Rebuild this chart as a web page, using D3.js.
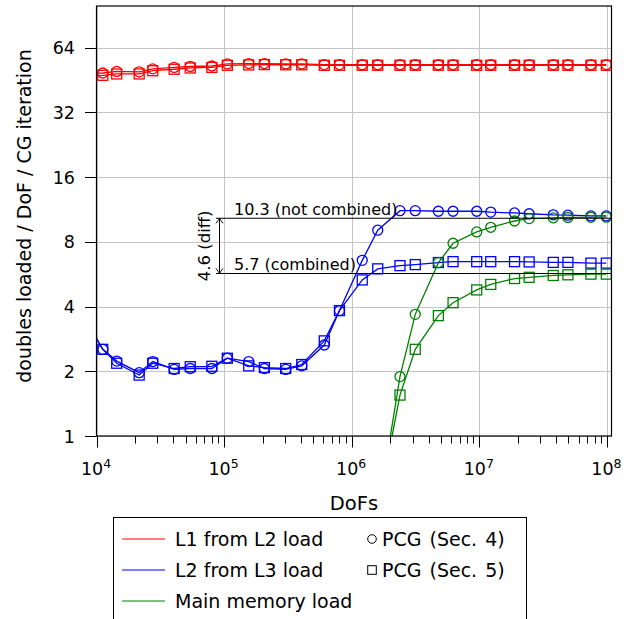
<!DOCTYPE html>
<html><head><meta charset="utf-8">
<script src="https://cdn.jsdelivr.net/npm/d3@7"></script>
<style>
body{margin:0;background:#fff}
svg{display:block}
text{font-family:'DejaVu Sans',sans-serif;fill:#000}
</style>
</head><body>
<svg id="c" width="642" height="619"></svg>
<script>
// ---------------- data ----------------
const dofs = [7.5e3, 1.12e4, 1.44e4, 2.16e4, 2.76e4, 4.06e4, 5.43e4, 8.02e4, 1.06e5, 1.56e5,
  2.07e5, 3.04e5, 4.06e5, 6.1e5, 8.02e5, 1.21e6, 1.6e6, 2.39e6, 3.15e6, 4.78e6,
  6.23e6, 9.55e6, 1.23e7, 1.89e7, 2.46e7, 3.8e7, 4.95e7, 7.5e7, 9.9e7];

const l1Sec4 = [48.0, 48.8, 49.6, 49.4, 51.0, 51.8, 52.3, 52.6, 53.8, 54.0, 54.0, 53.8, 53.8, 53.4, 53.4,
  53.3, 53.3, 53.3, 53.3, 53.3, 53.3, 53.3, 53.3, 53.3, 53.3, 53.3, 53.3, 53.3, 53.3];
const l1Sec5 = [47.0, 47.6, 48.3, 48.3, 50.0, 50.8, 51.5, 51.8, 53.0, 53.2, 53.4, 53.3, 53.3, 53.0, 53.0,
  53.0, 53.0, 53.0, 53.0, 53.0, 53.0, 53.0, 53.0, 53.0, 53.0, 53.0, 53.0, 53.0, 53.0];

const l2Sec4 = [3.8, 2.53, 2.23, 1.97, 2.22, 2.04, 2.06, 2.06, 2.30, 2.22, 2.06, 2.04, 2.12, 2.65, 3.83,
  6.56, 9.06, 11.17, 11.17, 11.1, 11.1, 11.1, 11.0, 10.9, 10.81, 10.68, 10.64, 10.56, 10.56];
const l2Sec5 = [3.8, 2.53, 2.18, 1.92, 2.18, 2.06, 2.10, 2.11, 2.30, 2.12, 2.08, 2.06, 2.15, 2.77, 3.83,
  5.32, 5.99, 6.2, 6.27, 6.41, 6.47, 6.47, 6.47, 6.47, 6.45, 6.42, 6.42, 6.37, 6.37];

const memSec4 = [null, null, null, null, null, null, null, null, null, null, null, null, null, null, null, null,
  0.43, 1.89, 3.68, 6.4, 7.88, 8.9, 9.35, 10.0, 10.26, 10.35, 10.38, 10.4, 10.42];
const memSec5 = [null, null, null, null, null, null, null, null, null, null, null, null, null, null, null, null,
  0.45, 1.55, 2.53, 3.63, 4.17, 4.78, 5.07, 5.4, 5.47, 5.58, 5.62, 5.66, 5.66];

const seriesNames = ["L1 from L2 load", "L2 from L3 load", "Main memory load"];
const seriesColors = ["#ff0000", "#0000ff", "#008000"];
const variantNames = ["PCG (Sec. 4)", "PCG (Sec. 5)"];
const xTickExps = [4, 5, 6, 7, 8];
const yTicks = [1, 2, 4, 8, 16, 32, 64];
const annoValues = [10.3, 5.7];
const annoLabels = ["10.3 (not combined)", "5.7 (combined)"];
const diffLabel = "4.6 (diff)";
const xTitle = "DoFs";
const yTitle = "doubles loaded / DoF / CG iteration";

// ---------------- chart ----------------
const svg = d3.select("#c");
const L = 96.5, R = 611.5, T = 6, B = 436;
const x = d3.scaleLog().domain([1e4, 1.087e8]).range([L, R]);
const y = d3.scaleLog().base(2).domain([1, 100]).range([B, T]);

svg.append("rect").attr("width", 642).attr("height", 619).attr("fill", "#fff");

// grid
const grid = svg.append("g").attr("stroke", "#c4c4c4").attr("stroke-width", 1);
xTickExps.forEach(e => {
  const px = Math.round(x(Math.pow(10, e))) + 0.5;
  grid.append("line").attr("x1", px).attr("x2", px).attr("y1", T).attr("y2", B);
});
yTicks.forEach(v => {
  const py = Math.round(y(v)) + 0.5;
  grid.append("line").attr("x1", L).attr("x2", R).attr("y1", py).attr("y2", py);
});

// ticks
const ticks = svg.append("g").attr("stroke", "#000").attr("stroke-width", 1);
xTickExps.forEach(e => {
  const px = Math.round(x(Math.pow(10, e))) + 0.5;
  ticks.append("line").attr("x1", px).attr("x2", px).attr("y1", B).attr("y2", B + 11.5);
  if (e < 8) {
    for (let m = 2; m <= 9; m++) {
      const mx = Math.round(x(m * Math.pow(10, e))) + 0.5;
      ticks.append("line").attr("x1", mx).attr("x2", mx).attr("y1", B).attr("y2", B + 7.5);
    }
  }
});
yTicks.forEach(v => {
  const py = Math.round(y(v)) + 0.5;
  ticks.append("line").attr("x1", L - 11.5).attr("x2", L).attr("y1", py).attr("y2", py);
});

// tick labels
xTickExps.forEach(e => {
  const t = svg.append("text").attr("x", x(Math.pow(10, e)) - 0.5).attr("y", 475)
    .attr("text-anchor", "middle").attr("font-size", 17.5);
  t.append("tspan").text("10");
  t.append("tspan").attr("dy", -7).attr("font-size", 12.5).text(String(e));
});
yTicks.forEach(v => {
  svg.append("text").attr("x", 75).attr("y", y(v) + 6.6).attr("text-anchor", "end")
    .attr("font-size", 17.5).text(String(v));
});

// axis titles
svg.append("text").attr("x", 354).attr("y", 510).attr("text-anchor", "middle")
  .attr("font-size", 19.5).text(xTitle);
svg.append("text").attr("transform", "translate(31,216) rotate(-90)")
  .attr("text-anchor", "middle").attr("font-size", 19).text(yTitle);

// clip
svg.append("clipPath").attr("id", "clip").append("rect")
  .attr("x", L).attr("y", T).attr("width", R - L).attr("height", B - T);
const plot = svg.append("g").attr("clip-path", "url(#clip)");

// annotation lines
const anno = svg.append("g");
const ax0 = 216, arrX = 219.5;
annoValues.forEach((v, i) => {
  const py = y(v);
  anno.append("line").attr("x1", ax0).attr("x2", R).attr("y1", py).attr("y2", py)
    .attr("stroke", "#000").attr("stroke-width", 1.1);
  anno.append("text").attr("x", 234).attr("y", py - 3.5).attr("font-size", 16)
    .text(annoLabels[i]);
});
{
  const y1 = y(annoValues[0]), y2 = y(annoValues[1]);
  anno.append("line").attr("x1", arrX).attr("x2", arrX).attr("y1", y1).attr("y2", y2)
    .attr("stroke", "#000").attr("stroke-width", 1);
  anno.append("path").attr("d", `M${arrX - 3.5},${y1 + 5} Q${arrX - 0.8},${y1 + 1.6} ${arrX},${y1} Q${arrX + 0.8},${y1 + 1.6} ${arrX + 3.5},${y1 + 5}`)
    .attr("fill", "none").attr("stroke", "#000").attr("stroke-width", 1);
  anno.append("path").attr("d", `M${arrX - 3.5},${y2 - 5} Q${arrX - 0.8},${y2 - 1.6} ${arrX},${y2} Q${arrX + 0.8},${y2 - 1.6} ${arrX + 3.5},${y2 - 5}`)
    .attr("fill", "none").attr("stroke", "#000").attr("stroke-width", 1);
  anno.append("text").attr("transform", `translate(209.5,${(y1 + y2) / 2}) rotate(-90)`)
    .attr("text-anchor", "middle").attr("font-size", 16.5).text(diffLabel);
}

// series
const allSeries = [
  [l1Sec4, l1Sec5],
  [l2Sec4, l2Sec5],
  [memSec4, memSec5]
];
const line = d3.line().defined(d => d[1] != null).x(d => x(d[0])).y(d => y(d[1]));
allSeries.forEach((pair, si) => {
  pair.forEach((vals, vi) => {
    const pts = dofs.map((d, i) => [d, vals[i]]).filter(p => p[1] != null);
    const g = plot.append("g");
    g.append("path").attr("d", line(pts)).attr("fill", "none")
      .attr("stroke", seriesColors[si]).attr("stroke-width", 1.3);
    pts.forEach(p => {
      if (vi === 0) {
        g.append("circle").attr("cx", x(p[0])).attr("cy", y(p[1])).attr("r", 5)
          .attr("fill", "none").attr("stroke", seriesColors[si]).attr("stroke-width", 1.3);
      } else {
        g.append("rect").attr("x", x(p[0]) - 5).attr("y", y(p[1]) - 5).attr("width", 10).attr("height", 10)
          .attr("fill", "none").attr("stroke", seriesColors[si]).attr("stroke-width", 1.3);
      }
    });
  });
});

// frame
svg.append("rect").attr("x", L).attr("y", T).attr("width", R - L).attr("height", B - T)
  .attr("fill", "none").attr("stroke", "#000").attr("stroke-width", 1.2);

// legend
const lg = svg.append("g");
lg.append("rect").attr("x", 113.5).attr("y", 517.5).attr("width", 413).attr("height", 130)
  .attr("fill", "#fff").attr("stroke", "#000").attr("stroke-width", 1);
seriesNames.forEach((n, i) => {
  const cy = 539 + i * 31;
  lg.append("line").attr("x1", 122).attr("x2", 165).attr("y1", cy).attr("y2", cy)
    .attr("stroke", seriesColors[i]).attr("stroke-width", 1.2);
  lg.append("text").attr("x", 175).attr("y", cy + 7).attr("font-size", 19).text(n);
});
variantNames.forEach((n, i) => {
  const cy = 539 + i * 31;
  if (i === 0) {
    lg.append("circle").attr("cx", 372).attr("cy", cy).attr("r", 4.3)
      .attr("fill", "none").attr("stroke", "#000").attr("stroke-width", 1);
  } else {
    lg.append("rect").attr("x", 367.7).attr("y", cy - 4.3).attr("width", 8.6).attr("height", 8.6)
      .attr("fill", "none").attr("stroke", "#000").attr("stroke-width", 1);
  }
  lg.append("text").attr("x", 382).attr("y", cy + 7).attr("font-size", 19)
    .attr("word-spacing", 2).text(n);
});
</script>
</body></html>
